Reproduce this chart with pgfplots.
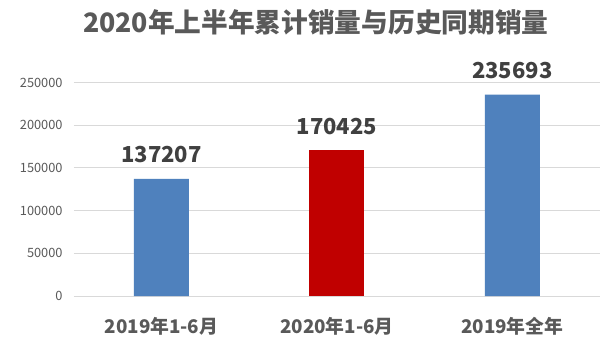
\documentclass[border=0pt]{standalone}
\usepackage{pgfplots}
\pgfplotsset{compat=1.18}
\usepackage{fontspec}
\setmainfont{Noto Sans CJK SC}
\definecolor{barblue}{RGB}{79,129,189}
\definecolor{barred}{RGB}{192,0,0}
\definecolor{txt}{RGB}{89,89,89}
\definecolor{valtxt}{RGB}{64,64,64}
\definecolor{gridc}{RGB}{217,217,217}
\begin{document}
\begin{tikzpicture}[x=1pt,y=1pt]
\fill[white] (0,0) rectangle (600,346);
\useasboundingbox (0,0) rectangle (600,346);
\begin{axis}[
  at={(73.75pt,50pt)}, anchor=south west,
  scale only axis, width=526.25pt, height=213.5pt,
  xmin=-0.5, xmax=2.5, ymin=0, ymax=250000,
  axis line style={draw=none},
  ytick={0,50000,100000,150000,200000,250000},
  yticklabels={0,50000,100000,150000,200000,250000},
  ymajorgrids, grid style={draw=gridc, line width=0.9pt},
  xtick={0,1,2},
  xticklabels={2019年1-6月,2020年1-6月,2019年全年},
  major tick length=0pt,
  scaled y ticks=false,
  yticklabel style={font=\fontsize{12.8}{15}\selectfont, text=txt, anchor=east, inner sep=0pt, xshift=-11pt},
  xticklabel style={font=\fontsize{18.8}{22}\selectfont\bfseries, text=txt, anchor=base, inner sep=0pt, yshift=-37pt},
  title={2020年上半年累计销量与历史同期销量},
  title style={at={(axis description cs:0.46,1)}, anchor=base, yshift=44.5pt, inner sep=0pt, font=\fontsize{26.7}{30}\selectfont\bfseries, text=txt},
  clip=false,
]
\addplot[ybar, bar shift=0pt, bar width=55pt, fill=barblue, draw=none,
  nodes near coords, point meta=explicit symbolic,
  every node near coord/.append style={anchor=base, inner sep=0pt, yshift=16pt, font=\fontsize{22}{26}\selectfont\bfseries, text=valtxt}]
  coordinates {(0,137207) [137207] (2,235693) [235693]};
\addplot[ybar, bar shift=0pt, bar width=55pt, fill=barred, draw=none,
  nodes near coords, point meta=explicit symbolic,
  every node near coord/.append style={anchor=base, inner sep=0pt, yshift=16pt, font=\fontsize{22}{26}\selectfont\bfseries, text=valtxt}]
  coordinates {(1,170425) [170425]};
\end{axis}
\end{tikzpicture}
\end{document}
